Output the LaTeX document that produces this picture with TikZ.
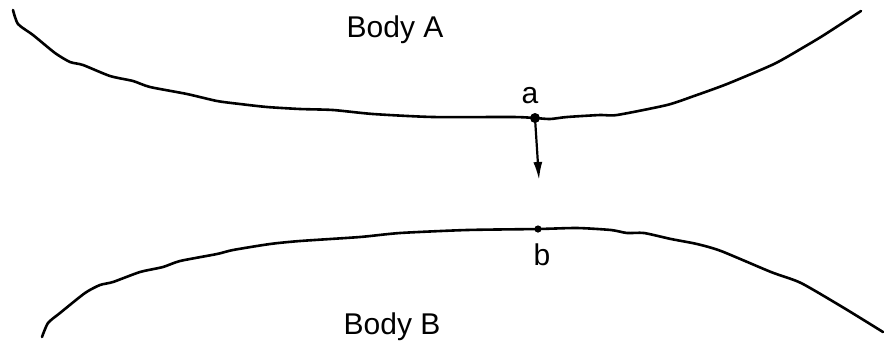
\documentclass[tikz,border=0pt]{standalone}
\usepackage{fontspec}
\setmainfont{Liberation Sans}
\usetikzlibrary{arrows.meta,positioning}

\begin{document}
\begin{tikzpicture}[
  x=0.5pt,y=-0.5pt,
  font=\fontsize{15}{17}\selectfont,
  surface/.style={line width=1.3pt,line join=round,line cap=round},
  bodylbl/.style={anchor=base,inner sep=0pt},
  ptlbl/.style={anchor=base,inner sep=0pt},
  pt/.style={circle,fill=black,inner sep=0pt,minimum size=#1},
  move/.style={-{Latex[length=9pt,width=4.5pt]},line width=1.1pt}]
\useasboundingbox (0,0) rectangle (884,344);

\draw[surface] plot[smooth,tension=0.4] coordinates {
  (13,10) (18,24) (33,35) (55,53) (70,62) (83,65) (110,76) (133,81)
  (150,87) (187,94) (217,101) (240,104) (267,107) (300,109) (333,110)
  (373,114) (433,117) (513,117) (535,118) (550,119) (567,117) (600,115)
  (617,115) (667,105) (694,96) (727,84) (774,64) (804,47) (824,35) (861,11)};
\draw[surface] plot[smooth,tension=0.4] coordinates {
  (42,337) (48,323) (60,313) (85,293) (100,285) (113,282) (140,272)
  (163,267) (180,261) (217,254) (233,250) (270,244) (300,241) (360,237)
  (400,233) (467,230) (538,229) (577,228) (611,230) (627,233) (644,233)
  (671,239) (697,244) (721,251) (771,272) (801,283) (844,308) (883,332)};

\node[pt=5pt] (a) at (535,118) {};
\node[pt=3.6pt] (b) at (538,229) {};
\coordinate (tip) at (539,180);
\draw[move] (a.center) -- (tip);

\node[ptlbl] (alab) at (530,103) {a};
\node[ptlbl] (blab) at (542,265) {b};
\node[bodylbl] (bodyA) at (395,37) {Body A};
\node[bodylbl] (bodyB) at (392,334) {Body B};
\end{tikzpicture}
\end{document}
